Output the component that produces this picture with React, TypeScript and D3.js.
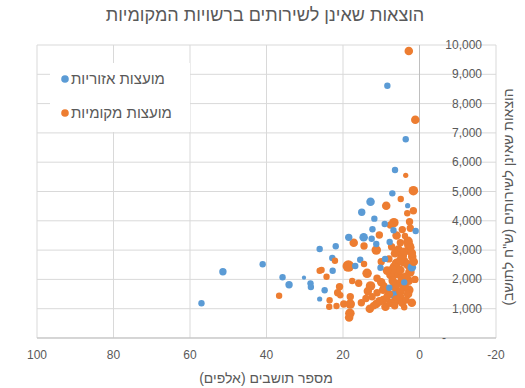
import React from 'react';
import * as d3 from 'd3';

// [population (thousands), spending per resident (NIS), bubble size]
const regionalCouncils: [number, number, number][] = [
  [57.0, 1184, 9], [51.4, 2263, 12], [41.0, 2515, 9], [35.8, 2072, 9], [34.1, 1819, 12],
  [30.2, 2058, 4], [28.5, 1866, 9], [28.4, 1741, 9], [26.1, 3037, 9], [26.1, 1331, 6],
  [24.8, 1628, 9], [21.9, 3130, 9], [22.8, 2730, 9], [22.7, 2297, 9], [16.8, 2457, 9],
  [15.5, 2672, 9], [18.5, 3436, 12], [14.6, 3436, 16], [12.5, 3389, 9], [11.3, 3208, 9],
  [7.8, 3276, 9], [12.3, 3710, 9], [11.8, 4073, 9], [9.1, 3891, 9], [6.8, 3676, 9],
  [1.0, 3652, 9], [15.1, 4290, 12], [12.8, 4652, 16], [7.1, 4937, 9], [3.1, 4516, 6],
  [6.4, 5734, 9], [3.6, 6781, 9], [8.4, 8611, 9], [10.2, 2399, 9], [2.0, 2413, 16],
  [6.3, 1468, 25], [7.9, 1717, 9], [4.0, 1900, 9], [9.0, 2700, 9],
];

const localCouncils: [number, number, number][] = [
  [2.8, 9795, 16], [1.1, 7450, 16], [3.6, 5553, 6], [1.6, 5027, 20], [4.9, 4744, 9],
  [8.7, 4516, 16], [3.2, 4256, 9], [1.6, 4345, 12], [6.7, 3935, 20], [7.6, 3857, 12],
  [2.6, 3969, 12], [2.4, 3744, 12], [10.5, 3515, 12], [3.8, 3481, 9], [17.2, 3253, 16],
  [14.5, 3140, 12], [11.3, 3003, 20], [7.3, 3116, 12], [5.0, 3253, 12], [2.8, 3174, 20],
  [2.4, 3096, 16], [6.4, 2891, 16], [3.9, 2945, 16], [5.0, 2662, 16], [1.9, 2775, 16],
  [22.1, 2638, 9], [14.5, 2526, 9], [18.6, 2457, 30], [25.6, 2321, 9], [6.7, 2433, 16],
  [5.0, 2321, 16], [13.7, 2208, 20], [24.3, 2092, 9], [11.1, 2037, 12], [7.6, 2150, 16],
  [3.2, 1980, 16], [17.6, 1945, 9], [15.9, 1867, 12], [12.8, 1775, 20], [9.3, 1775, 12],
  [5.8, 1843, 16], [2.8, 1956, 16], [20.9, 1751, 12], [21.4, 1546, 12], [20.7, 1457, 9],
  [11.1, 1546, 12], [12.4, 1410, 12], [8.5, 1410, 12], [2.8, 1638, 20], [5.0, 1580, 16],
  [18.1, 1410, 12], [15.2, 1205, 12], [18.1, 1160, 20], [19.8, 1160, 12], [23.5, 1287, 9],
  [21.7, 1092, 9], [23.6, 1068, 9], [11.3, 1160, 16], [8.9, 1068, 16], [7.6, 1205, 16],
  [18.2, 843, 20], [18.4, 700, 16], [36.7, 1444, 9], [26.1, 2297, 9], [4.5, 3700, 12],
  [6.0, 3500, 16], [4.0, 2600, 20], [6.0, 2200, 20], [3.5, 2100, 16], [7.0, 1950, 16],
  [5.0, 1400, 16], [3.5, 1300, 12], [6.5, 1100, 12], [4.0, 1050, 9], [9.5, 1300, 16],
  [13.0, 1000, 16], [10.0, 2600, 12], [8.0, 2700, 12], [3.0, 3300, 20], [5.5, 3000, 20],
  [2.0, 2900, 16], [4.5, 2800, 20], [6.0, 2550, 20], [3.0, 2500, 20], [7.0, 2350, 16],
  [2.5, 2250, 20], [4.5, 2050, 20], [6.5, 1750, 20], [4.0, 1750, 20], [3.0, 1500, 16],
  [6.0, 1300, 20], [4.5, 1200, 16], [2.0, 1200, 16], [8.0, 1500, 16], [9.5, 1650, 16],
  [10.0, 1900, 16], [8.5, 2300, 16], [1.5, 2600, 16], [1.2, 2000, 12], [13.5, 1600, 16],
  [10.5, 1250, 16], [12.0, 1100, 12], [14.0, 1350, 12],
];

const xTicks = [100, 80, 60, 40, 20, 0, -20];
const yTicks = [0, 1000, 2000, 3000, 4000, 5000, 6000, 7000, 8000, 9000, 10000];

const seriesNames = ['מועצות אזוריות', 'מועצות מקומיות'];
const colors = ['#5B9BD5', '#ED7D31'];

const title = 'הוצאות שאינן לשירותים ברשויות המקומיות';
const xTitle = 'מספר תושבים (אלפים)';
const yTitle = 'הוצאות שאינן לשירותים (ש"ח לתושב)';

const W = 525;
const H = 388;
const font = 'Liberation Sans, DejaVu Sans, sans-serif';
const textColor = '#595959';

export default function App() {
  const x = d3.scaleLinear().domain([100, -20]).range([37, 496]);
  const y = d3.scaleLinear().domain([0, 10000]).range([338, 45]);
  const r = d3.scaleSqrt().domain([0, 36]).range([0, 6.4]);
  const fmt = d3.format(',');

  // larger bubbles first so small ones stay on top
  const bubbles = [
    ...regionalCouncils.map(d => ({ d, c: colors[0] })),
    ...localCouncils.map(d => ({ d, c: colors[1] })),
  ].sort((a, b) => b.d[2] - a.d[2]);

  return (
    <svg width={W} height={H} style={{ position: 'absolute', left: 0, top: 0, background: '#fff' }} fontFamily={font}>
      <rect width={W} height={H} fill="#fff" />
      <text x={265} y={21} textAnchor="middle" fontSize={18} fill={textColor}>{title}</text>

      {/* gridlines */}
      {yTicks.map(t => (
        <line key={'gy' + t} x1={x(100)} x2={x(-20)} y1={y(t)} y2={y(t)} stroke="#d9d9d9" />
      ))}
      {xTicks.map(t => (
        <line key={'gx' + t} x1={x(t)} x2={x(t)} y1={y(0)} y2={y(10000)} stroke="#d9d9d9" />
      ))}
      <line x1={x(0)} x2={x(0)} y1={y(0)} y2={y(10000)} stroke="#bfbfbf" />
      <line x1={x(100)} x2={x(-20)} y1={y(0)} y2={y(0)} stroke="#bfbfbf" />

      {/* legend */}
      <rect x={50} y={63} width={140} height={69} fill="#fff" />
      {seriesNames.map((n, i) => (
        <g key={n}>
          <circle cx={65} cy={79 + i * 34} r={3.8} fill={colors[i]} />
          <text x={71} y={84 + i * 34} fontSize={15} fill={textColor} textAnchor="start" direction="ltr">{n}</text>
        </g>
      ))}

      {/* bubbles */}
      {bubbles.map((b, i) => (
        <circle key={i} cx={x(b.d[0])} cy={y(b.d[1])} r={r(b.d[2])} fill={b.c} />
      ))}

      {/* y tick labels */}
      {yTicks.map(t => (
        t === 0
          ? <text key={'ly' + t} x={444} y={y(t) + 4} fontSize={12} fill={textColor} textAnchor="middle">-</text>
          : <text key={'ly' + t} x={482} y={y(t) + 4} fontSize={12} fill={textColor} textAnchor="end">{fmt(t)}</text>
      ))}

      {/* x tick labels */}
      {xTicks.map(t => (
        <text key={'lx' + t} x={x(t)} y={359} fontSize={12} fill={textColor} textAnchor="middle">{t}</text>
      ))}

      <text x={266} y={383} fontSize={14} fill={textColor} textAnchor="middle">{xTitle}</text>
      <text transform={`translate(513,197) rotate(-90)`} fontSize={14} fill={textColor} textAnchor="middle">{yTitle}</text>
    </svg>
  );
}
